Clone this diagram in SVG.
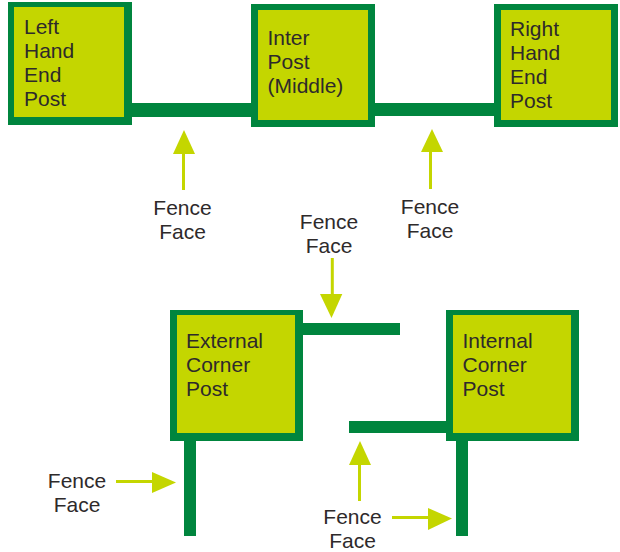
<svg xmlns="http://www.w3.org/2000/svg" width="620" height="552" viewBox="0 0 620 552">
<style>
text{font-family:"Liberation Sans",Arial,sans-serif;font-size:21px;fill:#2e2a2b}
.c{text-anchor:middle}
.o{fill:#00853e}
.i{fill:#c4d600}
.r{fill:#00853e}
.a{fill:none;stroke:#c4d600;stroke-width:3}
.h{fill:#c4d600}
</style>
<rect width="620" height="552" fill="#fff"/>
<g id="connectors">
<rect class="r" x="132" y="103" width="119" height="14"/>
<rect class="r" x="375" y="103" width="119" height="13"/>
<rect class="r" x="303" y="323" width="97" height="12"/>
<rect class="r" x="349" y="421" width="97" height="12"/>
<rect class="r" x="184" y="441" width="12" height="95"/>
<rect class="r" x="456" y="441" width="12" height="95"/>
<path class="a" d="M183.500 190V150"/><path class="h" d="M184 130L195 154H173Z"/>
<path class="a" d="M430.500 189V149"/><path class="h" d="M432 129L443 152H421Z"/>
<path class="a" d="M332.300 258V298"/><path class="h" d="M331.500 318L320 294H342.300Z"/>
<path class="a" d="M116 481.500H156"/><path class="h" d="M176 482.500L152 472V493Z"/>
<path class="a" d="M359.500 501V461"/><path class="h" d="M360 441L371 465H349Z"/>
<path class="a" d="M392 517.500H432"/><path class="h" d="M452 518.500L428 508V530Z"/>
</g>
<g id="left-post"><rect class="o" x="8" y="2" width="124" height="123"/><rect class="i" x="14" y="7" width="110" height="110"/>
<text x="24" y="33.500">Left</text><text x="24" y="57.500">Hand</text><text x="24" y="81.500">End</text><text x="24" y="105.500">Post</text></g>
<g id="inter-post"><rect class="o" x="251" y="4" width="124" height="123"/><rect class="i" x="258" y="10" width="110" height="110"/>
<text x="267.500" y="45">Inter</text><text x="267.500" y="69">Post</text><text x="267.500" y="93">(Middle)</text></g>
<g id="right-post"><rect class="o" x="494" y="4" width="124" height="123"/><rect class="i" x="501" y="10" width="110" height="110"/>
<text x="510" y="36">Right</text><text x="510" y="60">Hand</text><text x="510" y="84">End</text><text x="510" y="108">Post</text></g>
<g id="external-corner-post"><rect class="o" x="170" y="310" width="133" height="131"/><rect class="i" x="177" y="315" width="118" height="118"/>
<text x="186" y="348">External</text><text x="186" y="372">Corner</text><text x="186" y="396">Post</text></g>
<g id="internal-corner-post"><rect class="o" x="446" y="310" width="133" height="131"/><rect class="i" x="453" y="315" width="118" height="118"/>
<text x="462.500" y="348">Internal</text><text x="462.500" y="372">Corner</text><text x="462.500" y="396">Post</text></g>
<g id="fence-face-1"><text class="c" x="182.500" y="215">Fence</text><text class="c" x="182.500" y="239">Face</text></g>
<g id="fence-face-2"><text class="c" x="430" y="214">Fence</text><text class="c" x="430" y="238">Face</text></g>
<g id="fence-face-3"><text class="c" x="329" y="229">Fence</text><text class="c" x="329" y="253">Face</text></g>
<g id="fence-face-4"><text class="c" x="77" y="488">Fence</text><text class="c" x="77" y="512">Face</text></g>
<g id="fence-face-5"><text class="c" x="352.500" y="524">Fence</text><text class="c" x="352.500" y="548">Face</text></g>
</svg>
